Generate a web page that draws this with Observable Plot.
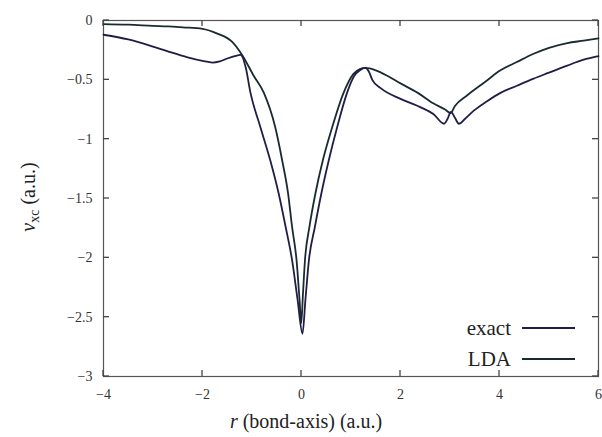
<!DOCTYPE html>
<html>
<head>
<meta charset="utf-8">
<script src="https://cdn.jsdelivr.net/npm/d3@7"></script>
<script src="https://cdn.jsdelivr.net/npm/@observablehq/plot@0.6"></script>
<style>
  html, body { margin: 0; padding: 0; background: #fff; }
  #chart svg { display: block; }
  #chart svg, #chart svg text, #chart svg tspan {
    font-family: "Liberation Serif", "Times New Roman", "DejaVu Serif", "Noto Serif", serif !important;
  }
</style>
</head>
<body>
<div id="chart"></div>
<script>
// ---- data ----
const exactX = [-4, -3.5, -3, -2.7, -2.3, -2, -1.8, -1.65, -1.5, -1.35, -1.23, -1.13, -1.03, -0.83, -0.63, -0.46, -0.32, -0.19, -0.08, 0.02, 0.08, 0.15, 0.27, 0.40, 0.55, 0.72, 0.92, 1.06, 1.18, 1.29, 1.36, 1.43, 1.6, 2.0, 2.4, 2.67, 2.88, 2.95, 3.02, 3.1, 3.18, 3.3, 3.48, 3.75, 4.02, 4.35, 4.69, 5.0, 5.37, 5.7, 6];
const exactY = [-0.12, -0.16, -0.22, -0.26, -0.31, -0.34, -0.355, -0.345, -0.32, -0.30, -0.29, -0.39, -0.61, -0.90, -1.18, -1.46, -1.74, -2.02, -2.35, -2.64, -2.35, -2.02, -1.74, -1.46, -1.18, -0.90, -0.61, -0.47, -0.42, -0.40, -0.43, -0.50, -0.57, -0.66, -0.73, -0.79, -0.87, -0.83, -0.77, -0.82, -0.87, -0.83, -0.76, -0.68, -0.61, -0.55, -0.49, -0.44, -0.38, -0.33, -0.30];

const ldaX = [-4, -3.5, -3, -2.7, -2.4, -2.0, -1.7, -1.4, -1.2, -0.96, -0.76, -0.53, -0.39, -0.27, -0.19, -0.10, -0.04, -0.005, 0.03, 0.07, 0.16, 0.28, 0.43, 0.62, 0.84, 1.05, 1.18, 1.29, 1.5, 1.75, 2.0, 2.35, 2.67, 2.9, 3.01, 3.1, 3.35, 3.7, 4.02, 4.35, 4.69, 5.0, 5.37, 5.7, 6];
const ldaY = [-0.03, -0.035, -0.045, -0.05, -0.058, -0.07, -0.11, -0.18, -0.29, -0.47, -0.61, -0.90, -1.18, -1.46, -1.74, -2.02, -2.35, -2.55, -2.30, -2.02, -1.74, -1.46, -1.18, -0.90, -0.62, -0.45, -0.41, -0.40, -0.42, -0.47, -0.53, -0.61, -0.70, -0.75, -0.78, -0.72, -0.63, -0.52, -0.42, -0.35, -0.28, -0.23, -0.19, -0.17, -0.15];

const xTicks = [-4, -2, 0, 2, 4, 6];
const yTicks = [0, -0.5, -1, -1.5, -2, -2.5, -3];
const seriesNames = ["exact", "LDA"];
const seriesColors = ["#201d48", "#1a2b30"];

const exactData = exactX.map((x, i) => ({x, y: exactY[i]}));
const ldaData = ldaX.map((x, i) => ({x, y: ldaY[i]}));

const W = 602, H = 437, mL = 103, mR = 4, mT = 20, mB = 61, tk = 6;
const fmt = d => d === 0 ? "0" : String(d).replace("-", "\u2212");
const tickColor = "#444";

const chart = Plot.plot({
  width: W,
  height: H,
  marginLeft: mL,
  marginRight: mR,
  marginTop: mT,
  marginBottom: mB,
  style: {background: "#fff", color: "#333"},
  x: {domain: [-4, 6]},
  y: {domain: [-3, 0]},
  marks: [
    Plot.frame({stroke: "#555", strokeWidth: 1.2}),
    Plot.axisX({ticks: xTicks, anchor: "bottom", tickSize: 0, tickPadding: 13, fontSize: 14, tickFormat: fmt, label: null}),
    Plot.axisY({ticks: yTicks, anchor: "left", tickSize: 0, tickPadding: 11, fontSize: 14, tickFormat: fmt, label: null}),
    Plot.line(ldaData, {x: "x", y: "y", stroke: seriesColors[1], strokeWidth: 1.8, curve: "monotone-x"}),
    Plot.line(exactData, {x: "x", y: "y", stroke: seriesColors[0], strokeWidth: 1.8, curve: "monotone-x"})
  ]
});

document.getElementById("chart").appendChild(chart);

const svg = d3.select(chart);
const sx = chart.scale("x"), sy = chart.scale("y");
const frameL = mL, frameR = W - mR, frameT = mT, frameB = H - mB;

// inward ticks on all four sides, placed with Plot's own scales
const tg = svg.append("g").attr("stroke", tickColor).attr("stroke-width", 1.3);
xTicks.forEach(t => {
  const px = sx.apply(t);
  tg.append("line").attr("x1", px).attr("x2", px).attr("y1", frameB).attr("y2", frameB - tk);
  tg.append("line").attr("x1", px).attr("x2", px).attr("y1", frameT).attr("y2", frameT + tk);
});
yTicks.forEach(t => {
  const py = sy.apply(t);
  tg.append("line").attr("y1", py).attr("y2", py).attr("x1", frameL).attr("x2", frameL + tk);
  tg.append("line").attr("y1", py).attr("y2", py).attr("x1", frameR).attr("x2", frameR - tk);
});

// axis titles and legend
const xl = svg.append("text")
  .attr("x", 306).attr("y", 428)
  .attr("text-anchor", "middle")
  .attr("font-size", 20).attr("fill", "#222");
xl.append("tspan").attr("font-style", "italic").text("r");
xl.append("tspan").text(" (bond-axis) (a.u.)");

const yl = svg.append("text")
  .attr("transform", "translate(35,197) rotate(-90)")
  .attr("text-anchor", "middle")
  .attr("font-size", 20).attr("fill", "#222");
yl.append("tspan").attr("font-style", "italic").text("v");
yl.append("tspan").attr("font-size", 14).attr("dy", 4).text("xc");
yl.append("tspan").attr("dy", -4).text(" (a.u.)");

const leg = svg.append("g").attr("font-size", 21).attr("fill", "#222");
seriesNames.forEach((name, i) => {
  const cy = 328 + i * 31;
  leg.append("text").attr("x", 511).attr("y", cy).attr("dy", "0.32em")
    .attr("text-anchor", "end").text(name);
  leg.append("line").attr("x1", 522).attr("x2", 575).attr("y1", cy).attr("y2", cy)
    .attr("stroke", seriesColors[i]).attr("stroke-width", 2);
});
</script>
</body>
</html>
